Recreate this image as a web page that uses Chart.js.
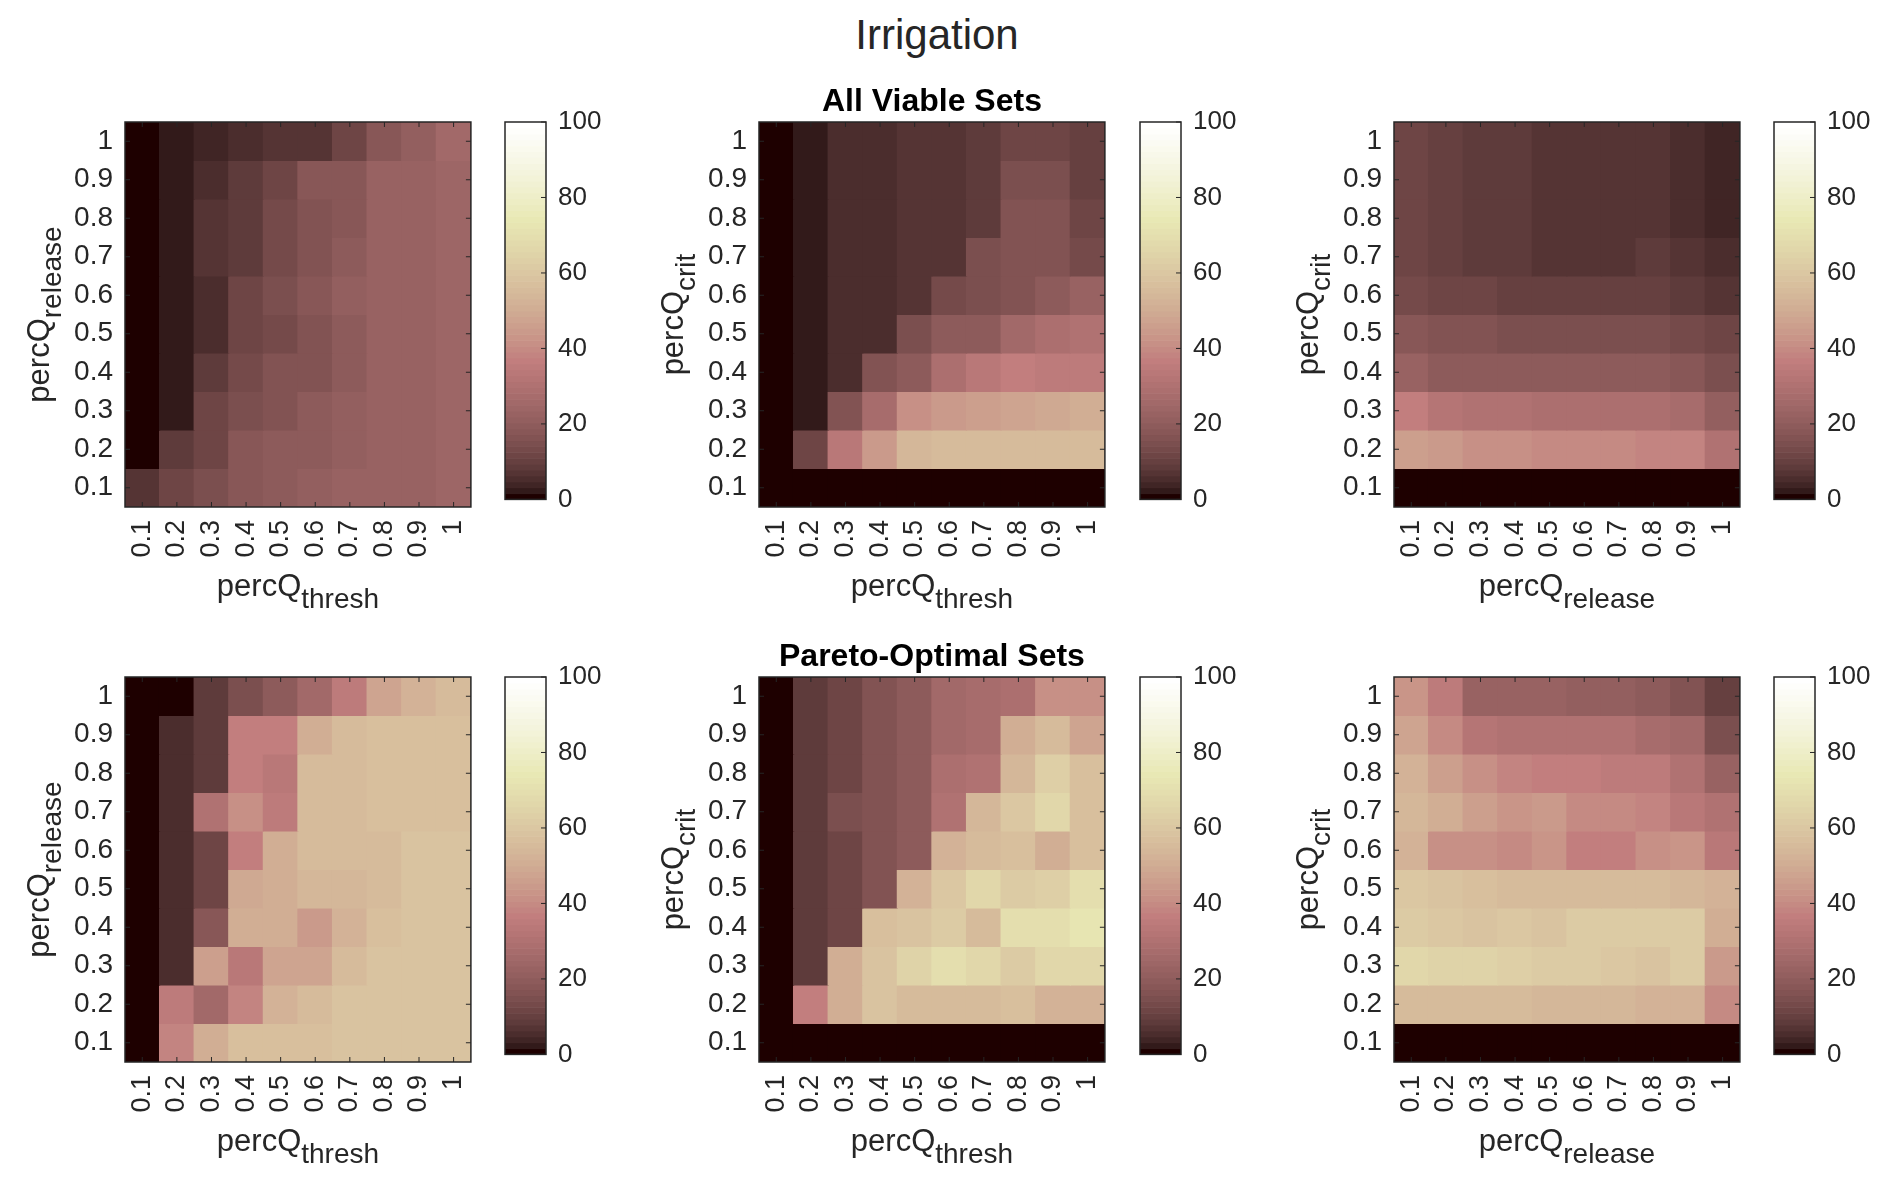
<!DOCTYPE html>
<html lang="en">
<head>
  <meta charset="UTF-8" />
  <title>Irrigation</title>
  <script src="https://cdn.jsdelivr.net/npm/chart.js"></script>
  <style>
    body {
      margin: 0;
      width: 1892px;
      height: 1186px;
      position: relative;
      overflow: hidden;
      background: #fff;
      font-family: "Liberation Sans", Arial, sans-serif;
    }
    #titulo {
      position: absolute;
      left: 0;
      top: 14px;
      width: 1874px;
      text-align: center;
      font-size: 42px;
      line-height: 42px;
      color: #262626;
    }
    .caixa { position: absolute; }
  </style>
</head>
<body>
<div id="titulo">Irrigation</div>

<script>
  // eixos
  const xLabels = ['0.1', '0.2', '0.3', '0.4', '0.5', '0.6', '0.7', '0.8', '0.9', '1'];
  const yValues = [0.1, 0.2, 0.3, 0.4, 0.5, 0.6, 0.7, 0.8, 0.9, 1];
  const yLabels = ['0.1', '0.2', '0.3', '0.4', '0.5', '0.6', '0.7', '0.8', '0.9', '1'];
  const cbTicks = [0, 20, 40, 60, 80, 100];

  // valores (%) linha de cima (y = 1) ate a de baixo (y = 0.1)
  const viableReleaseThresh = [
    [0, 2, 3.5, 5, 7, 7.5, 11, 18, 21, 25],
    [0, 2.5, 5, 8, 11, 18, 18, 22, 23, 24],
    [0, 2.5, 6.5, 8, 13, 17, 18, 23, 23, 24],
    [0, 2.5, 6.5, 8, 13, 17, 19, 23, 23, 24],
    [0, 2.5, 5, 11, 15, 18, 21, 23, 23, 24],
    [0, 2.5, 5, 11, 14, 17, 19, 22, 23, 24],
    [0, 2.5, 8, 13, 16, 17, 20, 22, 23, 24],
    [0, 2.5, 12, 15, 17, 19, 21, 22, 23, 24],
    [0, 8, 11, 18, 19, 20, 21, 22, 23, 24],
    [7, 12, 15, 18, 19, 21, 22, 23, 23, 24]
  ];

  const viableCritThresh = [
    [1, 2.5, 5, 5.5, 7, 7.5, 8.5, 12, 12, 10],
    [1, 2.5, 5, 5.5, 7, 7.5, 8.5, 15, 15, 10],
    [1, 2.5, 5, 5.5, 6.5, 7, 8, 16, 16, 11],
    [1, 2.5, 5, 5.5, 6.5, 7, 15, 17, 17, 13],
    [1, 2.5, 5, 5.5, 6.5, 13, 15, 16, 19, 22],
    [1, 2.5, 5, 5.5, 15, 19, 20, 26, 29, 31],
    [1, 2.5, 5, 16, 19, 29, 33, 37, 35, 35],
    [1, 2.5, 16, 28, 42, 44, 46, 47, 49, 50],
    [1, 12, 33, 45, 54, 55, 56, 56, 56, 56],
    [0, 0, 0, 0, 0, 0, 0, 0, 0, 0]
  ];

  const viableCritRelease = [
    [12, 9.5, 9, 8, 7, 7, 7, 6.5, 5.5, 4],
    [12, 9.5, 9, 8, 7, 7, 7, 6.5, 5.5, 4],
    [12, 9.5, 9, 8, 7.5, 7, 6.5, 6.5, 5.5, 4.5],
    [12, 9.5, 9, 8.5, 7.5, 7.5, 7.5, 8, 6.5, 5.5],
    [14, 11, 11, 10, 9.5, 9.5, 9.5, 9.5, 9, 7.5],
    [18, 16, 16, 15.5, 15, 15, 15, 14.5, 14, 12],
    [23, 20, 20, 19.5, 19, 19, 19, 19, 18.5, 15],
    [36, 32, 31, 30, 29, 29, 29, 29, 28, 21],
    [46, 44, 42, 41, 40, 40, 40, 39, 38, 31],
    [0, 0, 0, 0, 0, 0, 0, 0, 0, 0]
  ];

  const paretoReleaseThresh = [
    [0, 0, 9, 15, 19, 26, 35, 47, 52, 56],
    [0, 5.5, 9, 37, 36, 50, 56, 57, 57, 57],
    [0, 5.5, 9, 37, 34, 55, 56, 57, 57, 57],
    [0, 5.5, 31, 42, 35, 56, 56, 57, 57, 57],
    [0, 5.5, 12, 36, 50, 56, 56, 55, 58, 58],
    [0, 5.5, 12, 49, 50, 54, 54, 56, 58, 58],
    [0, 5.5, 18, 51, 50, 44, 53, 57, 58, 58],
    [0, 5.5, 46, 33, 47, 48, 55, 59, 59, 59],
    [0, 35, 25, 38, 52, 56, 58, 59, 59, 58],
    [0, 38, 50, 57, 57, 57, 58, 59, 59, 58]
  ];

  const paretoCritThresh = [
    [0, 9, 12, 16, 20, 25, 27, 29, 42, 42],
    [0, 9, 12, 16, 20, 26, 27, 51, 55, 48],
    [0, 9, 12, 16, 20, 29, 31, 54, 64, 57],
    [0, 9, 15, 16, 20, 30, 54, 60, 66, 57],
    [0, 9, 11, 16, 20, 53, 55, 57, 51, 57],
    [0, 9, 11, 16, 52, 60, 67, 62, 63, 70],
    [0, 9, 11, 57, 58, 62, 56, 70, 70, 72],
    [0, 9, 50, 58, 65, 70, 67, 62, 66, 66],
    [0, 37, 50, 59, 55, 55, 55, 57, 52, 53],
    [0, 0, 0, 0, 0, 0, 0, 0, 0, 0]
  ];

  const paretoCritRelease = [
    [43, 35, 22, 22, 22, 21, 21, 20, 17, 10],
    [48, 40, 32, 30, 31, 30, 30, 28, 26, 15],
    [52, 46, 41, 39, 37, 36, 35, 35, 30, 23],
    [54, 50, 46, 43, 45, 40, 40, 38, 34, 31],
    [52, 42, 42, 40, 43, 37, 37, 42, 43, 33],
    [60, 58, 57, 56, 56, 56, 56, 55, 54, 52],
    [62, 60, 59, 60, 59, 62, 62, 61, 62, 51],
    [66, 65, 65, 64, 62, 61, 60, 59, 62, 45],
    [56, 56, 55, 55, 54, 54, 54, 53, 53, 40],
    [0, 0, 0, 0, 0, 0, 0, 0, 0, 0]
  ];

  const paineis = [
    { grid: viableReleaseThresh, row: 0, col: 0, xSub: 'thresh', ySub: 'release' },
    { grid: viableCritThresh, row: 0, col: 1, xSub: 'thresh', ySub: 'crit', title: 'All Viable Sets' },
    { grid: viableCritRelease, row: 0, col: 2, xSub: 'release', ySub: 'crit' },
    { grid: paretoReleaseThresh, row: 1, col: 0, xSub: 'thresh', ySub: 'release' },
    { grid: paretoCritThresh, row: 1, col: 1, xSub: 'thresh', ySub: 'crit', title: 'Pareto-Optimal Sets' },
    { grid: paretoCritRelease, row: 1, col: 2, xSub: 'release', ySub: 'crit' }
  ];

  // layout em pixels
  const plotLeft = [125, 759, 1394];
  const cbLeft = [505, 1140, 1774];
  const plotTop = [122, 677];
  const plotW = 355, plotH = 385, cbW = 41;
  const yAxisW = 125, xAxisH = 130, topPad = 45, rightPad = 20;

  const COR_EIXO = '#262626';
  const FONTE = '"Liberation Sans", Arial, sans-serif';
  Chart.defaults.font.family = FONTE;
  Chart.defaults.color = COR_EIXO;

  // colormap pink(64) do MATLAB
  function pinkMap(i) {
    const m = 64, n = Math.floor(3 / 8 * m);
    const g = i / (m - 1);
    const hr = i < n ? (i + 1) / n : 1;
    const hg = i < n ? 0 : (i < 2 * n ? (i - n + 1) / n : 1);
    const hb = i < 2 * n ? 0 : (i - 2 * n + 1) / (m - 2 * n);
    const c = h => Math.round(255 * Math.sqrt((2 * g + h) / 3));
    return `rgb(${c(hr)},${c(hg)},${c(hb)})`;
  }
  function corDe(v) {
    let i = Math.floor(v / 100 * 64);
    i = Math.min(63, Math.max(0, i));
    return pinkMap(i);
  }

  function textoSub(ctx, main, sub, cx, baseY) {
    const fMain = '31px ' + FONTE, fSub = '28px ' + FONTE;
    ctx.font = fMain;
    const w1 = ctx.measureText(main).width;
    ctx.font = fSub;
    const w2 = ctx.measureText(sub).width;
    const x0 = cx - (w1 + w2) / 2;
    ctx.textAlign = 'left';
    ctx.textBaseline = 'alphabetic';
    ctx.font = fMain;
    ctx.fillText(main, x0, baseY);
    ctx.font = fSub;
    ctx.fillText(sub, x0 + w1, baseY + 12);
  }

  const moldura = {
    id: 'moldura',
    afterDatasetsDraw(chart, args, opts) {
      const { ctx, chartArea: a, scales: { x, y } } = chart;
      ctx.save();
      ctx.strokeStyle = COR_EIXO;
      ctx.lineWidth = 1;
      ctx.beginPath();
      x.ticks.forEach((t, i) => {
        const px = x.getPixelForTick(i);
        ctx.moveTo(px, a.bottom); ctx.lineTo(px, a.bottom - 5);
        ctx.moveTo(px, a.top); ctx.lineTo(px, a.top + 5);
      });
      y.ticks.forEach(t => {
        const py = y.getPixelForValue(t.value);
        ctx.moveTo(a.left, py); ctx.lineTo(a.left + 5, py);
        ctx.moveTo(a.right, py); ctx.lineTo(a.right - 5, py);
      });
      ctx.stroke();
      ctx.lineWidth = 1.5;
      ctx.strokeRect(a.left, a.top, a.width, a.height);

      ctx.fillStyle = COR_EIXO;
      textoSub(ctx, 'percQ', opts.xSub, (a.left + a.right) / 2, a.bottom + 89);

      ctx.save();
      ctx.translate(a.left - 76, (a.top + a.bottom) / 2);
      ctx.rotate(-Math.PI / 2);
      textoSub(ctx, 'percQ', opts.ySub, 0, 0);
      ctx.restore();

      if (opts.title) {
        ctx.fillStyle = '#000';
        ctx.font = 'bold 32px ' + FONTE;
        ctx.textAlign = 'center';
        ctx.textBaseline = 'alphabetic';
        ctx.fillText(opts.title, (a.left + a.right) / 2, a.top - 11);
      }
      ctx.restore();
    }
  };

  const barraCores = {
    id: 'barraCores',
    beforeDatasetsDraw(chart) {
      const { ctx, chartArea: a, scales: { y } } = chart;
      ctx.save();
      for (let i = 0; i < 64; i++) {
        const y0 = y.getPixelForValue(i * 100 / 64);
        const y1 = y.getPixelForValue((i + 1) * 100 / 64);
        ctx.fillStyle = pinkMap(i);
        ctx.fillRect(a.left, y1, a.width, y0 - y1 + 0.6);
      }
      ctx.strokeStyle = COR_EIXO;
      ctx.lineWidth = 1;
      ctx.beginPath();
      y.ticks.forEach(t => {
        const py = y.getPixelForValue(t.value);
        ctx.moveTo(a.right, py); ctx.lineTo(a.right - 5, py);
      });
      ctx.stroke();
      ctx.lineWidth = 1.5;
      ctx.strokeRect(a.left, a.top, a.width, a.height);
      ctx.restore();
    }
  };

  function criarCanvas(left, top, w, h) {
    const div = document.createElement('div');
    div.className = 'caixa';
    div.style.left = left + 'px';
    div.style.top = top + 'px';
    div.style.width = w + 'px';
    div.style.height = h + 'px';
    const cv = document.createElement('canvas');
    cv.width = w;
    cv.height = h;
    cv.style.width = w + 'px';
    cv.style.height = h + 'px';
    div.appendChild(cv);
    document.body.appendChild(div);
    return cv.getContext('2d');
  }

  function montarDatasets(grid) {
    const half = (yValues[1] - yValues[0]) / 2;
    return grid.map((linha, r) => {
      const yv = yValues[yValues.length - 1 - r];
      return {
        data: linha.map(() => [yv - half, yv + half]),
        backgroundColor: linha.map(v => corDe(v)),
        borderWidth: 0,
        grouped: false,
        barPercentage: 1,
        categoryPercentage: 1,
        inflateAmount: 0.6
      };
    });
  }

  paineis.forEach(p => {
    const left = plotLeft[p.col] - yAxisW;
    const top = plotTop[p.row] - topPad;
    const ctx = criarCanvas(left, top, yAxisW + plotW + rightPad, topPad + plotH + xAxisH);

    new Chart(ctx, {
      type: 'bar',
      data: { labels: xLabels, datasets: montarDatasets(p.grid) },
      options: {
        responsive: false,
        animation: false,
        layout: { padding: { top: topPad, right: rightPad, left: 0, bottom: 0 } },
        plugins: {
          legend: { display: false },
          tooltip: { enabled: false },
          moldura: { xSub: p.xSub, ySub: p.ySub, title: p.title }
        },
        scales: {
          x: {
            type: 'category',
            grid: { display: false, drawTicks: false },
            border: { display: false },
            ticks: {
              autoSkip: false,
              minRotation: 90,
              maxRotation: 90,
              padding: 13,
              font: { size: 27 },
              color: COR_EIXO
            },
            afterFit: s => { s.height = xAxisH; }
          },
          y: {
            type: 'linear',
            min: yValues[0] - 0.05,
            max: yValues[yValues.length - 1] + 0.05,
            grid: { display: false, drawTicks: false },
            border: { display: false },
            afterBuildTicks: s => { s.ticks = yValues.map(v => ({ value: v })); },
            ticks: {
              padding: 12,
              font: { size: 28 },
              color: COR_EIXO,
              callback: (v, i) => yLabels[i]
            },
            afterFit: s => { s.width = yAxisW; }
          }
        }
      },
      plugins: [moldura]
    });

    // barra de cores
    const cbCtx = criarCanvas(cbLeft[p.col] - 10, top, 10 + cbW + 80, topPad + plotH + 20);
    new Chart(cbCtx, {
      type: 'bar',
      data: { labels: [''], datasets: [] },
      options: {
        responsive: false,
        animation: false,
        layout: { padding: { top: topPad, left: 10, right: 0, bottom: 20 } },
        plugins: { legend: { display: false }, tooltip: { enabled: false } },
        scales: {
          x: { display: false },
          y: {
            position: 'right',
            min: cbTicks[0],
            max: cbTicks[cbTicks.length - 1],
            grid: { display: false, drawTicks: false },
            border: { display: false },
            afterBuildTicks: s => { s.ticks = cbTicks.map(v => ({ value: v })); },
            ticks: { padding: 12, font: { size: 26 }, color: COR_EIXO },
            afterFit: s => { s.width = 80; }
          }
        }
      },
      plugins: [barraCores]
    });
  });
</script>
</body>
</html>
